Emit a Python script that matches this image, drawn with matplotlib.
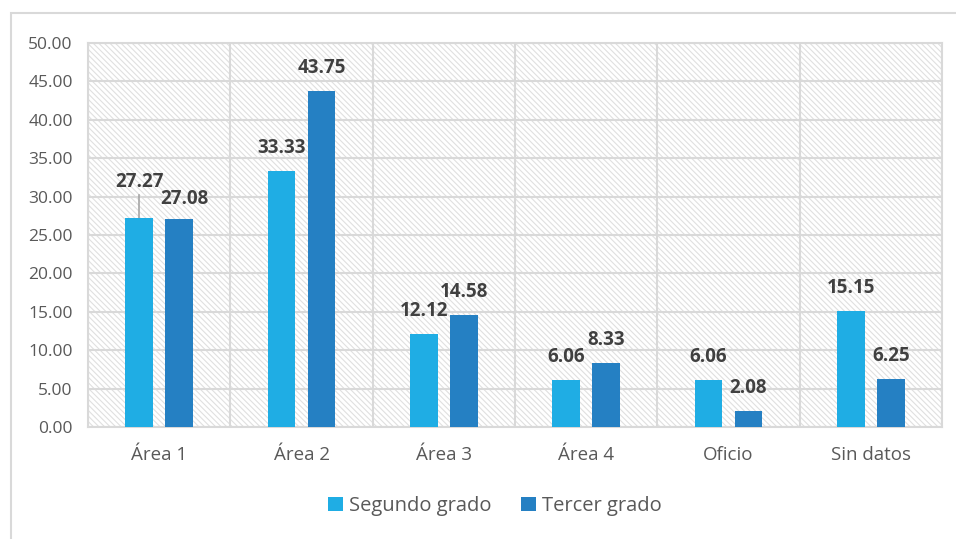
import matplotlib
matplotlib.use('Agg')
import matplotlib.pyplot as plt
from matplotlib.patches import Rectangle
import numpy as np

LIGHT = "#1fade4"
DARK = "#2580c3"
GRID = "#d9d9d9"
TEXT = "#595959"
LABEL = "#404040"

categories = ['Área 1', 'Área 2', 'Área 3', 'Área 4', 'Oficio', 'Sin datos']
segundo = [27.27, 33.33, 12.12, 6.06, 6.06, 15.15]
tercero = [27.08, 43.75, 14.58, 8.33, 2.08, 6.25]

plt.rcParams.update({
    'font.family': ['Open Sans', 'DejaVu Sans'],
    'hatch.linewidth': 0.8,
    'hatch.color': '#e0e0e0',
})

fig = plt.figure(figsize=(9.56, 5.39), dpi=100)
ax = fig.add_axes([88/956, 1 - 427/539, (942-88)/956, (427-43)/539])

# outer chart border
fig.patches.append(Rectangle((11/956, -0.05), 1.0, 1 - 13/539 + 0.05,
                             transform=fig.transFigure, fill=False,
                             edgecolor=GRID, linewidth=1.5))

# hatched plot area background
ax.add_patch(Rectangle((0, 0), 1, 1, transform=ax.transAxes, facecolor='white',
                       edgecolor='#e0e0e0', hatch='\\' * 6, linewidth=0, zorder=0))

x = np.arange(len(categories))
w = 0.195
off = 0.14
ax.bar(x - off, segundo, w, color=LIGHT, label='Segundo grado', zorder=3)
ax.bar(x + off, tercero, w, color=DARK, label='Tercer grado', zorder=3)

lbl = dict(ha='center', va='center', fontsize=13.5, fontweight='bold', color=LABEL, zorder=4)
for i, (a, b) in enumerate(zip(segundo, tercero)):
    if i == 0:
        # label pushed up with a leader line
        ax.plot([x[i] - off, x[i] - off], [a, a + 2.9], color='#a6a6a6', lw=1.2, zorder=2)
        ax.text(x[i] - off, a + 4.6, f'{a:.2f}', **lbl)
        ax.text(x[i] + off + 0.04, b + 2.6, f'{b:.2f}', **lbl)
    else:
        ax.text(x[i] - off, a + 3.0, f'{a:.2f}', **lbl)
        ax.text(x[i] + off, b + 3.0, f'{b:.2f}', **lbl)

ax.set_xlim(-0.5, len(categories) - 0.5)
ax.set_ylim(0, 50)
ax.set_yticks(np.arange(0, 50.1, 5))
ax.set_yticklabels([f'{v:.2f}' for v in np.arange(0, 50.1, 5)])
ax.set_xticks(x)
ax.set_xticklabels(categories)
ax.set_xticks(np.arange(-0.5, len(categories), 1), minor=True)
ax.tick_params(axis='both', which='both', length=0, colors=TEXT)
ax.tick_params(axis='x', pad=14, labelsize=13.5)
ax.tick_params(axis='y', pad=11, labelsize=12.5)
ax.grid(True, axis='y', which='major', color=GRID, linewidth=1.5, zorder=1)
ax.grid(True, axis='x', which='minor', color=GRID, linewidth=1.5, zorder=1)
ax.grid(False, axis='x', which='major')
ax.set_axisbelow(True)
for s in ax.spines.values():
    s.set_color(GRID)
    s.set_linewidth(1.5)

fig.legend(loc='center', bbox_to_anchor=(495/956, 1 - 506/539), ncol=2, frameon=False,
           fontsize=14.5, handlelength=0.72, handleheight=0.72, handletextpad=0.3,
           columnspacing=1.5, labelcolor=TEXT)

fig.savefig('out.png', dpi=100)
